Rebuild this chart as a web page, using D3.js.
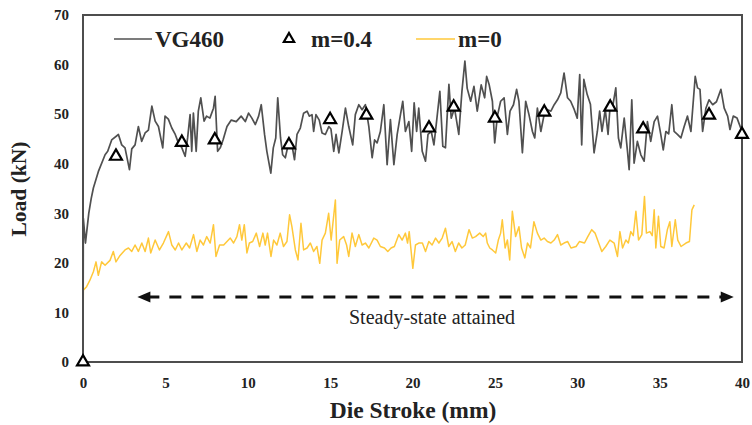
<!DOCTYPE html>
<html>
<head>
<meta charset="utf-8">
<script src="https://cdn.jsdelivr.net/npm/d3@7"></script>
<style>
  html, body { margin: 0; padding: 0; background: #fff; }
  svg { display: block; }
</style>
</head>
<body>
<svg id="chart" width="752" height="425"></svg>
<script>
/* ── DATA ─────────────────────────────────────────── */
const xTicks = [0, 5, 10, 15, 20, 25, 30, 35, 40];
const yTicks = [0, 10, 20, 30, 40, 50, 60, 70];

// VG460 measured load curve
const strokeVG = [0,0.02,0.15,0.35,0.5,0.63,0.93,1.34,1.5,1.74,2.15,2.35,2.55,2.82,2.96,3.16,3.36,3.56,3.77,3.97,
  4.18,4.38,4.58,4.84,4.98,5.18,5.39,5.6,5.79,6.0,6.2,6.35,6.5,6.6,6.7,6.87,7.0,7.15,7.35,7.5,7.7,7.92,8.02,8.17,8.33,
  8.5,8.74,9.0,9.3,9.6,9.85,10.05,10.25,10.46,10.66,10.82,11.02,11.16,11.4,11.55,11.7,11.82,11.99,12.12,12.28,12.48,
  12.68,12.84,12.99,13.19,13.39,13.6,13.74,13.9,14.0,14.14,14.34,14.51,14.71,14.92,15.05,15.22,15.36,15.53,15.73,15.93,
  16.13,16.37,16.53,16.74,16.94,17.14,17.35,17.55,17.7,17.85,18.05,18.26,18.46,18.66,18.87,19.07,19.27,19.41,19.57,
  19.78,19.95,20.1,20.25,20.38,20.59,20.79,20.94,21.14,21.3,21.46,21.66,21.84,22.0,22.21,22.35,22.55,22.81,23.0,23.18,
  23.32,23.53,23.73,23.93,24.17,24.38,24.5,24.65,24.85,24.99,25.15,25.35,25.56,25.76,25.92,26.13,26.32,26.46,26.67,
  26.87,27.07,27.28,27.42,27.58,27.79,27.99,28.2,28.4,28.6,28.8,29.0,29.2,29.41,29.6,29.82,30.0,30.15,30.27,30.4,30.6,
  30.8,31.02,31.22,31.36,31.5,31.7,31.87,32.0,32.15,32.34,32.5,32.64,32.85,33.05,33.15,33.31,33.45,33.65,33.86,34.06,
  34.26,34.46,34.67,34.87,35.07,35.22,35.38,35.55,35.74,35.88,36.08,36.29,36.49,36.69,36.9,37.16,37.3,37.45,37.61,
  37.81,38.0,38.22,38.45,38.72,38.92,39.13,39.27,39.47,39.7,40.0];
const loadVG = [0,29,24,30,33,35.1,38.4,41.8,42.5,44.8,45.9,43.8,43.2,38.8,43,43.8,47.5,44.5,46.2,46.8,
  51.6,48.6,47.5,43.2,49.6,49,47.2,45.9,44.2,43.2,41.5,45.2,49.9,42.5,50.2,42.5,50.6,53.3,48.6,49.6,49.2,51.2,53.6,42.5,43.2,
  44.8,47.5,48.8,48.5,49.6,48.5,50.2,49.2,47.9,49.6,51.9,45.9,42.5,38.1,43.2,45.2,53.3,45.2,41.8,41.2,44.2,
  43.8,40.8,45.9,47.2,50.2,50.6,49.6,49.9,46.5,49.9,48.8,46.2,45.9,47.5,47.0,42.5,45.9,42.2,46.5,51.2,
  47.5,43.8,49.9,51.9,50.9,51.9,47.5,41.2,44.8,44.2,46.5,51.9,39.8,48.9,39.8,45.9,49.9,52.6,46.5,
  48.5,42.5,52.3,46.5,51.2,42.5,40.5,45.9,46.5,43.8,48.5,54.6,43.5,43.2,56.0,49.2,51.2,45.9,54.6,60.7,
  55.2,52.6,55.6,50.6,55.9,53.3,57.6,56.0,52.6,44.2,49.6,52.6,53.3,45.9,50.6,51.9,55.0,52.6,42.2,
  52.6,49.9,46.5,45.2,51.2,46.5,49.9,50.9,50.6,51.9,52.9,54.3,58.3,53.3,52.6,50.9,49.2,58.0,43.8,57.0,54.0,
  52.0,42.2,46.5,50.6,46.5,50.9,45.9,51.9,51.5,55.3,45.2,43.2,49.2,42.5,38.8,52.9,40.1,44.5,41.8,40.5,
  48.5,44.5,48.5,49.6,45.9,42.8,46.5,46.0,51.9,46.5,45.9,45.2,47.5,49.6,46.5,57.6,55.3,55.0,46.5,
  51.2,52.9,51.9,52.5,55.0,51.2,49.6,46.9,49.6,49.2,46.5];

// m = 0 simulation
const strokeM0 = [0,0.02,0.22,0.42,0.63,0.79,0.93,1.13,1.34,1.64,1.84,2.0,2.25,2.55,2.76,2.96,3.16,3.36,3.57,3.77,
  3.97,4.11,4.38,4.64,4.88,5.19,5.39,5.6,5.8,6.0,6.27,6.47,6.71,6.91,7.11,7.31,7.51,7.72,7.92,8.07,8.29,8.54,8.74,
  8.94,9.14,9.34,9.5,9.64,9.79,9.95,10.1,10.3,10.52,10.72,10.92,11.06,11.2,11.41,11.57,11.77,11.97,12.17,12.38,12.54,
  12.68,12.89,13.05,13.23,13.39,13.6,13.8,14.0,14.2,14.37,14.51,14.71,14.91,15.06,15.32,15.42,15.58,15.82,16.0,16.13,
  16.33,16.53,16.74,16.94,17.14,17.35,17.65,17.85,18.05,18.3,18.5,18.7,18.9,19.17,19.37,19.57,19.7,19.8,20.02,20.18,
  20.38,20.6,20.79,20.99,21.19,21.4,21.6,21.8,22.0,22.2,22.4,22.6,22.8,23.0,23.2,23.43,23.63,23.83,24.08,24.29,24.44,
  24.54,24.69,24.85,25.05,25.21,25.35,25.45,25.62,25.76,25.9,26.06,26.26,26.46,26.62,26.82,26.98,27.16,27.37,27.58,
  27.79,27.99,28.19,28.4,28.6,28.8,29.0,29.2,29.42,29.62,29.93,30.13,30.44,30.64,30.88,31.08,31.49,31.73,31.98,32.24,
  32.44,32.59,32.75,32.95,33.1,33.25,33.4,33.56,33.72,33.92,34.08,34.2,34.41,34.55,34.67,34.77,34.93,35.07,35.27,
  35.47,35.62,35.74,35.95,36.1,36.3,36.6,36.81,36.96,37.1];
const loadM0 = [0,14.5,15.2,16.5,18.2,20.2,17.5,20.2,19.5,20.5,22.3,20.2,21.5,22.6,23.0,22.3,23.6,22.3,24.0,22.3,
  25.0,22.0,24.6,22.6,24.0,26.3,23.6,22.6,24.0,22.6,24.0,23.0,25.7,22.3,24.6,23.6,25.3,24.0,27.7,21.3,23.6,23.6,24.3,
  25.0,24.0,25.3,27.7,24.6,27.7,22.0,24.0,24.3,26.0,23.3,26.0,23.6,26.0,21.3,24.6,23.6,26.0,23.3,24.3,29.7,
  27.3,22.6,20.6,28.0,22.6,23.0,24.0,22.3,23.3,19.9,24.6,26.0,30.0,24.6,32.7,19.9,24.6,25.3,23.6,21.3,
  26.0,23.3,25.7,23.6,24.0,23.0,25.0,24.6,23.3,23.0,22.3,23.0,23.3,25.7,24.6,26.0,24.0,26.3,18.9,23.6,
  24.0,24.0,22.3,24.3,23.6,25.0,24.0,25.0,27.0,23.3,24.3,22.3,24.0,23.0,23.6,26.7,25.0,25.3,26.0,25.3,26.0,
  24.0,23.0,22.6,22.0,24.6,26.0,28.7,23.0,24.6,20.6,30.4,25.3,27.3,23.0,21.0,24.0,23.0,28.3,26.0,
  24.6,25.0,24.3,24.0,24.6,25.7,23.6,24.0,24.3,23.0,23.3,24.3,24.0,25.3,26.7,26.0,22.3,23.3,24.6,24.0,
  21.3,26.3,23.0,24.6,24.0,26.3,25.5,30.4,24.6,25.7,33.4,26.0,26.3,25.5,30.7,23.0,29.4,23.3,23.0,
  26.7,28.3,23.3,28.7,24.6,23.3,24.0,24.3,30.7,31.7];

// m = 0.4 simulation (markers)
const strokeM04 = [0, 2, 6, 8, 12.5, 15, 17.2, 21, 22.5, 25, 28, 32, 34, 38, 40];
const loadM04   = [0, 41.5, 44.3, 44.8, 43.8, 48.9, 49.8, 47.2, 51.4, 49.2, 50.4, 51.4, 47.0, 49.8, 45.9];

// steady-state arrow span (mm) and level (kN)
const steadySpan  = [3.3, 39.5];
const steadyLevel = 13.1;

/* ── LAYOUT ───────────────────────────────────────── */
const margin = { top: 15, right: 10, bottom: 63, left: 83 };
const W = 752, H = 425;
const SERIF = '"Liberation Serif", "Times New Roman", serif';
const svg = d3.select('#chart');

const x = d3.scaleLinear().domain([0, 40]).range([margin.left, W - margin.right]);
const y = d3.scaleLinear().domain([0, 70]).range([H - margin.bottom, margin.top]);

const GRAY   = '#505050';
const YELLOW = '#FFC83A';
const FRAME  = '#4d4d4d';

/* ── AXES ─────────────────────────────────────────── */
const xAxis = svg.append('g').attr('transform', 'translate(0,' + y(0) + ')')
  .call(d3.axisBottom(x).tickValues(xTicks).tickSize(0).tickPadding(15));
const yAxis = svg.append('g').attr('transform', 'translate(' + x(0) + ',0)')
  .call(d3.axisLeft(y).tickValues(yTicks).tickSize(0).tickPadding(14));
[xAxis, yAxis].forEach(a => {
  a.attr('font-family', SERIF);
  a.select('.domain').remove();
  a.selectAll('text').style('font-family', SERIF)
    .attr('font-size', 15).attr('font-weight', 'bold').attr('fill', '#222');
});

svg.append('text').attr('x', 413).attr('y', 418).attr('text-anchor', 'middle')
  .style('font-family', SERIF).attr('font-size', 23.5).attr('font-weight', 'bold').attr('fill', '#222').text('Die Stroke (mm)');
svg.append('text').attr('transform', 'translate(26,189) rotate(-90)').attr('text-anchor', 'middle')
  .style('font-family', SERIF).attr('font-size', 21.5).attr('font-weight', 'bold').attr('fill', '#222').text('Load (kN)');

/* ── SERIES ───────────────────────────────────────── */
const line = d3.line().x(d => x(d[0])).y(d => y(d[1]));

svg.append('path').datum(d3.zip(strokeVG, loadVG)).attr('d', line)
  .attr('fill', 'none').attr('stroke', GRAY).attr('stroke-width', 1.7).attr('stroke-linejoin', 'round');
svg.append('path').datum(d3.zip(strokeM0, loadM0)).attr('d', line)
  .attr('fill', 'none').attr('stroke', YELLOW).attr('stroke-width', 1.5).attr('stroke-linejoin', 'round');

// plot frame
svg.append('rect').attr('x', x(0)).attr('y', y(70)).attr('width', x(40) - x(0)).attr('height', y(0) - y(70))
  .attr('fill', 'none').attr('stroke', FRAME).attr('stroke-width', 2);

const tri = d3.symbol().type(d3.symbolTriangle).size(62);
svg.selectAll('.m04').data(d3.zip(strokeM04, loadM04)).enter().append('path')
  .attr('class', 'm04').attr('d', tri)
  .attr('transform', d => 'translate(' + x(d[0]) + ',' + y(d[1]) + ')')
  .attr('fill', '#fff').attr('stroke', '#000').attr('stroke-width', 2.2);

/* ── STEADY-STATE ANNOTATION ──────────────────────── */
const ay = y(steadyLevel);
const ax0 = x(steadySpan[0]), ax1 = x(steadySpan[1]);
svg.append('line').attr('x1', ax0 + 10).attr('x2', ax1 - 10).attr('y1', ay).attr('y2', ay)
  .attr('stroke', '#111').attr('stroke-width', 3).attr('stroke-dasharray', '12,10');
svg.append('path').attr('d', `M${ax0},${ay} L${ax0 + 13},${ay - 5.5} L${ax0 + 13},${ay + 5.5} Z`).attr('fill', '#111');
svg.append('path').attr('d', `M${ax1},${ay} L${ax1 - 13},${ay - 5.5} L${ax1 - 13},${ay + 5.5} Z`).attr('fill', '#111');
svg.append('text').attr('x', 432).attr('y', ay + 27).attr('text-anchor', 'middle')
  .style('font-family', SERIF).attr('font-size', 20).attr('fill', '#222').text('Steady-state attained');

/* ── LEGEND ───────────────────────────────────────── */
const ly = 39;
const legendText = (lx, label) => svg.append('text').attr('x', lx).attr('y', ly + 8)
  .style('font-family', SERIF).attr('font-size', 23).attr('font-weight', 'bold').attr('fill', '#222').text(label);
svg.append('line').attr('x1', 114).attr('x2', 152).attr('y1', ly).attr('y2', ly)
  .attr('stroke', GRAY).attr('stroke-width', 1.7);
legendText(155, 'VG460');
svg.append('path').attr('d', d3.symbol().type(d3.symbolTriangle).size(46))
  .attr('transform', 'translate(289,' + ly + ')')
  .attr('fill', '#fff').attr('stroke', '#000').attr('stroke-width', 2.2);
legendText(311, 'm=0.4');
svg.append('line').attr('x1', 416).attr('x2', 455).attr('y1', ly).attr('y2', ly)
  .attr('stroke', YELLOW).attr('stroke-width', 1.5);
legendText(458, 'm=0');
</script>
</body>
</html>
